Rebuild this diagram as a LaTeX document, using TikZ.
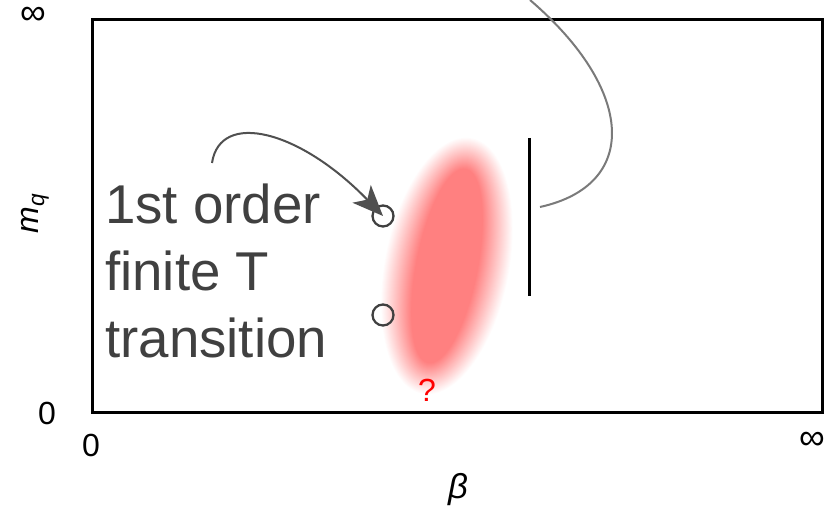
\documentclass[tikz,border=0pt]{standalone}
\usepackage{fontspec}
\setmainfont{Liberation Sans}
\usetikzlibrary{arrows.meta}
\definecolor{txtgray}{HTML}{404040}
\definecolor{arrgray}{HTML}{505050}
\definecolor{curvegray}{HTML}{7A7A7A}
\definecolor{blobred}{HTML}{FF8080}
\begin{document}
\begin{tikzpicture}[x=0.75pt,y=-0.75pt,
  axislbl/.style={inner sep=0pt, font=\fontsize{24}{28}\selectfont},
  inflbl/.style={inner sep=0pt, text height=0.6em, text depth=0pt, font=\fontsize{27}{30}\selectfont},
  bigtext/.style={inner sep=0pt, align=left, text=txtgray, font=\fontsize{41}{50}\selectfont},
  ring/.style={circle, draw=txtgray, line width=1.7pt, minimum size=15.75pt, inner sep=0pt},
  frameline/.style={line width=2.25pt},
  pointer/.style={draw=arrgray, line width=1.5pt, -{Stealth[length=23pt,width=19pt,inset=6pt]}},
  link/.style={draw=curvegray, line width=1.5pt}
]
\useasboundingbox (0,0) rectangle (826,509);
% blurred red region (linear ramp of stacked ellipses)
\begin{scope}[shift={(447,266)}, rotate=-11]
\foreach \i in {0,...,31} {
  \pgfmathsetmacro\op{1/(32-\i)}
  \fill[blobred, opacity=\op] (0,0) ellipse [x radius={62-\i}, y radius={130-\i}];
}
\end{scope}
% frame
\draw[frameline] (92,20) rectangle (822,413);
% axis labels
\node[inflbl] (inftop) at (33,21) {∞};
\node[axislbl] (zeroy) at (47,413) {0};
\node[axislbl] (zerox) at (91,445) {0};
\node[inflbl] (infx) at (812,446) {∞};
\node[axislbl, rotate=90] (mq) at (35,214) {\itshape m\raisebox{-0.35ex}{\fontsize{17}{20}\selectfont q}};
\node[axislbl] (beta) at (458,490) {\fontsize{26}{30}\selectfont\itshape β};
\node[axislbl, text=red] (qm) at (427,390) {?};
% text
\node[bigtext, anchor=north west] (lbl) at (105,184) {1st order\\finite T\\transition};
% circles
\node[ring] (c1) at (383,216) {};
\node[ring] (c2) at (383,315) {};
% arrow
\coordinate (as) at (212,163);
\draw[pointer] (as) .. controls (220,110) and (300,130) .. (c1.center);
% vertical line
\coordinate (vt) at (529,138);
\coordinate (vb) at (529,296);
\draw[frameline] (vt) -- (vb);
% gray curve
\coordinate (gs) at (540,207);
\coordinate (ge) at (530,0);
\draw[link] (gs) .. controls (640,185) and (635,90) .. (ge);
\end{tikzpicture}
\end{document}
